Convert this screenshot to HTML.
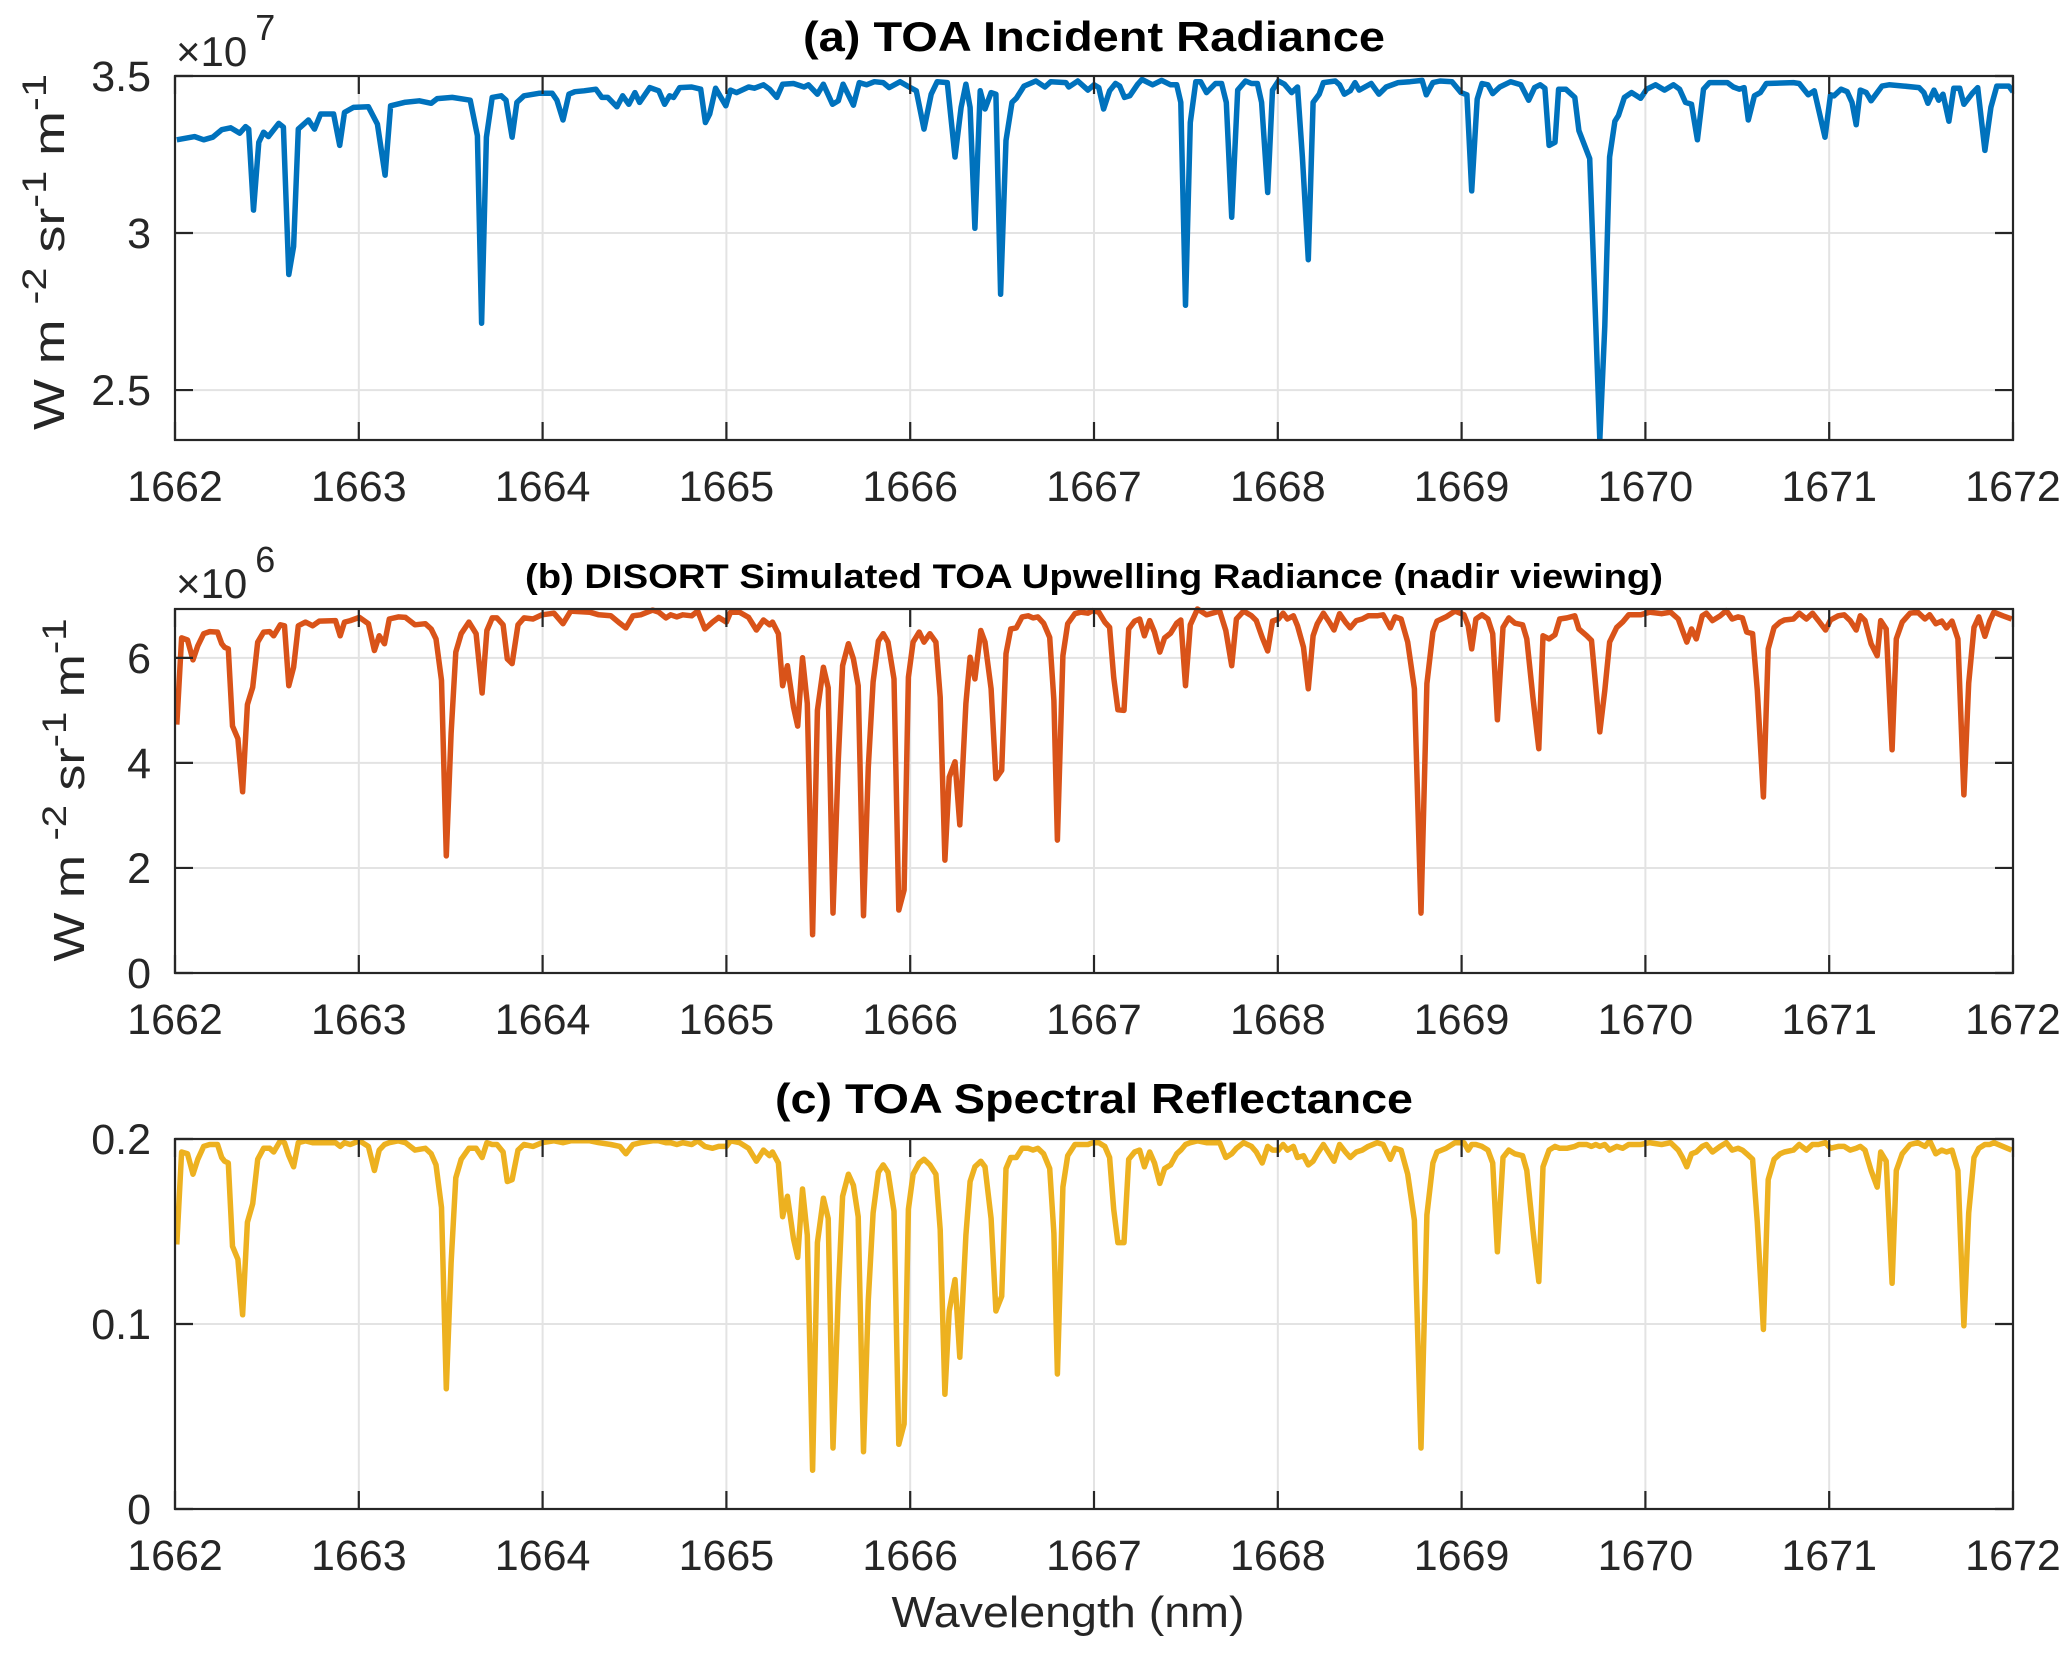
<!DOCTYPE html>
<html><head><meta charset="utf-8">
<style>
html,body{margin:0;padding:0;background:#fff;}
svg{display:block;font-family:"Liberation Sans",Arial,sans-serif;}
</style></head>
<body>
<svg id="fig" width="2067" height="1659" viewBox="0 0 2067 1659" xmlns="http://www.w3.org/2000/svg">
<rect x="0" y="0" width="2067" height="1659" fill="#fff"/>
<g id="layer"></g>
</svg>
<script>
// ---------- data ----------
const xTicks = [1662,1663,1664,1665,1666,1667,1668,1669,1670,1671,1672];
const xTickLabels = ["1662","1663","1664","1665","1666","1667","1668","1669","1670","1671","1672"];
const aTicks = [2.5,3,3.5];
const aTickLabels = ["2.5","3","3.5"];
const bTicks = [0,2,4,6];
const bTickLabels = ["0","2","4","6"];
const cTicks = [0,0.1,0.2];
const cTickLabels = ["0","0.1","0.2"];

// Panel (a): wavelength offset from 1662 nm, radiance (x10^7)
const aWave = [0.010,0.107,0.156,0.205,0.254,0.303,0.352,0.384,0.401,0.427,0.456,0.482,0.508,0.564,0.590,0.619,0.645,0.671,0.726,0.759,0.792,0.863,0.896,0.922,0.971,1.052,1.101,1.143,1.173,1.248,1.329,1.394,1.427,1.508,1.606,1.645,1.668,1.694,1.726,1.775,1.801,1.834,1.860,1.899,1.980,2.052,2.078,2.111,2.143,2.176,2.225,2.290,2.322,2.355,2.404,2.436,2.469,2.502,2.528,2.583,2.632,2.664,2.691,2.713,2.746,2.811,2.860,2.886,2.909,2.941,2.997,3.023,3.055,3.121,3.153,3.202,3.235,3.274,3.306,3.365,3.423,3.446,3.495,3.528,3.577,3.609,3.635,3.691,3.723,3.762,3.805,3.853,3.886,3.945,4.000,4.033,4.075,4.114,4.147,4.202,4.244,4.277,4.303,4.326,4.352,4.381,4.407,4.440,4.466,4.492,4.521,4.554,4.577,4.619,4.684,4.733,4.765,4.847,4.863,4.912,4.967,5.000,5.026,5.052,5.085,5.117,5.140,5.166,5.195,5.238,5.261,5.319,5.368,5.417,5.450,5.472,5.498,5.524,5.554,5.580,5.612,5.661,5.694,5.720,5.749,5.782,5.824,5.857,5.889,5.912,5.945,5.971,6.003,6.036,6.075,6.107,6.134,6.166,6.192,6.225,6.248,6.313,6.336,6.362,6.394,6.420,6.443,6.508,6.550,6.590,6.655,6.720,6.785,6.808,6.844,6.883,6.948,6.997,7.029,7.055,7.085,7.111,7.143,7.169,7.208,7.267,7.322,7.365,7.397,7.427,7.453,7.476,7.508,7.528,7.567,7.616,7.638,7.697,7.730,7.752,7.779,7.805,7.834,7.853,7.886,7.925,7.974,8.007,8.055,8.104,8.153,8.186,8.218,8.251,8.283,8.316,8.349,8.446,8.479,8.511,8.537,8.560,8.593,8.625,8.658,8.805,8.837,8.886,8.919,8.977,9.007,9.026,9.065,9.098,9.124,9.147,9.169,9.202,9.228,9.287,9.326,9.407,9.489,9.515,9.537,9.570,9.596,9.619,9.651,9.678,9.710,9.733,9.782,9.808,9.847,9.880,9.912,9.977,10.000];
const aRad = [3.297,3.307,3.297,3.305,3.329,3.335,3.318,3.339,3.331,3.073,3.289,3.321,3.307,3.349,3.337,2.868,2.957,3.331,3.360,3.331,3.379,3.379,3.279,3.384,3.400,3.402,3.347,3.184,3.405,3.416,3.421,3.413,3.428,3.432,3.423,3.310,2.713,3.305,3.432,3.437,3.423,3.305,3.416,3.437,3.445,3.445,3.423,3.360,3.442,3.450,3.453,3.458,3.432,3.432,3.402,3.437,3.410,3.447,3.416,3.463,3.453,3.410,3.437,3.432,3.463,3.465,3.458,3.352,3.379,3.461,3.405,3.455,3.447,3.465,3.461,3.472,3.458,3.432,3.474,3.476,3.465,3.472,3.442,3.474,3.410,3.421,3.474,3.407,3.479,3.472,3.482,3.479,3.463,3.482,3.463,3.453,3.331,3.442,3.482,3.479,3.242,3.400,3.474,3.400,3.015,3.453,3.395,3.447,3.442,2.805,3.295,3.416,3.429,3.468,3.484,3.465,3.482,3.479,3.465,3.484,3.455,3.472,3.463,3.395,3.453,3.476,3.468,3.432,3.437,3.474,3.489,3.472,3.486,3.472,3.472,3.416,2.770,3.352,3.482,3.482,3.447,3.476,3.476,3.416,3.050,3.455,3.484,3.476,3.476,3.416,3.129,3.455,3.484,3.474,3.447,3.465,3.242,2.915,3.416,3.442,3.479,3.484,3.472,3.442,3.453,3.479,3.455,3.476,3.442,3.465,3.479,3.482,3.486,3.440,3.479,3.484,3.482,3.447,3.440,3.134,3.426,3.476,3.472,3.444,3.465,3.482,3.472,3.423,3.463,3.472,3.461,3.279,3.289,3.458,3.458,3.432,3.326,3.237,2.704,2.341,2.704,3.242,3.356,3.374,3.432,3.447,3.429,3.458,3.472,3.455,3.472,3.458,3.416,3.410,3.297,3.458,3.479,3.479,3.465,3.458,3.463,3.360,3.437,3.447,3.476,3.479,3.476,3.440,3.453,3.305,3.440,3.437,3.458,3.450,3.416,3.345,3.455,3.447,3.421,3.468,3.472,3.468,3.463,3.447,3.413,3.455,3.423,3.442,3.356,3.461,3.461,3.410,3.447,3.463,3.263,3.400,3.468,3.468,3.450];

// Panel (b) and (c): shared wavelength offsets from 1662 nm
const bWave = [0.010,0.036,0.068,0.098,0.124,0.156,0.189,0.231,0.254,0.270,0.290,0.313,0.342,0.368,0.394,0.423,0.450,0.482,0.515,0.537,0.573,0.596,0.619,0.645,0.671,0.710,0.749,0.785,0.873,0.899,0.922,0.954,1.003,1.052,1.085,1.111,1.140,1.166,1.215,1.254,1.306,1.362,1.394,1.420,1.450,1.476,1.502,1.528,1.557,1.599,1.638,1.671,1.697,1.726,1.752,1.785,1.808,1.834,1.866,1.899,1.948,1.997,2.062,2.111,2.153,2.257,2.306,2.371,2.420,2.453,2.492,2.534,2.599,2.632,2.671,2.697,2.730,2.762,2.811,2.844,2.883,2.925,2.958,3.000,3.023,3.072,3.121,3.163,3.202,3.235,3.251,3.283,3.306,3.332,3.365,3.388,3.414,3.440,3.469,3.495,3.528,3.554,3.580,3.609,3.632,3.664,3.691,3.717,3.746,3.772,3.798,3.827,3.853,3.879,3.912,3.938,3.967,3.990,4.016,4.049,4.075,4.107,4.140,4.163,4.189,4.212,4.244,4.270,4.303,4.326,4.352,4.384,4.407,4.440,4.466,4.498,4.521,4.547,4.577,4.609,4.642,4.668,4.694,4.726,4.759,4.782,4.801,4.831,4.857,4.896,4.928,4.967,4.993,5.026,5.059,5.085,5.107,5.130,5.163,5.189,5.221,5.248,5.274,5.303,5.329,5.358,5.384,5.417,5.450,5.472,5.498,5.524,5.563,5.612,5.684,5.717,5.749,5.775,5.814,5.857,5.883,5.915,5.945,5.971,6.003,6.029,6.052,6.085,6.107,6.140,6.166,6.192,6.215,6.248,6.280,6.306,6.336,6.368,6.394,6.427,6.459,6.492,6.541,6.573,6.612,6.638,6.671,6.707,6.743,6.779,6.811,6.844,6.866,6.915,6.964,7.013,7.036,7.055,7.078,7.111,7.143,7.169,7.195,7.225,7.257,7.290,7.332,7.355,7.388,7.420,7.443,7.476,7.508,7.534,7.573,7.616,7.638,7.681,7.707,7.730,7.752,7.779,7.805,7.844,7.876,7.909,7.974,8.023,8.088,8.137,8.179,8.202,8.225,8.251,8.277,8.309,8.332,8.365,8.407,8.440,8.472,8.505,8.528,8.551,8.583,8.609,8.642,8.668,8.700,8.733,8.756,8.805,8.837,8.876,8.909,8.941,8.980,9.007,9.049,9.081,9.114,9.147,9.169,9.195,9.228,9.261,9.280,9.310,9.342,9.365,9.397,9.440,9.482,9.521,9.547,9.580,9.612,9.638,9.668,9.700,9.733,9.759,9.788,9.814,9.847,9.873,9.896,9.945,9.993];
const bRad = [4.73,6.38,6.34,5.96,6.23,6.46,6.50,6.49,6.27,6.20,6.17,4.70,4.46,3.45,5.11,5.44,6.30,6.49,6.50,6.42,6.63,6.61,5.47,5.82,6.61,6.68,6.61,6.70,6.71,6.42,6.68,6.71,6.77,6.65,6.14,6.42,6.27,6.74,6.78,6.77,6.63,6.65,6.55,6.36,5.57,2.23,4.56,6.11,6.46,6.68,6.46,5.33,6.52,6.76,6.76,6.63,5.98,5.89,6.63,6.76,6.74,6.82,6.85,6.65,6.89,6.87,6.82,6.80,6.66,6.57,6.80,6.82,6.91,6.87,6.76,6.82,6.78,6.82,6.80,6.89,6.55,6.68,6.77,6.68,6.87,6.87,6.77,6.53,6.72,6.63,6.68,6.46,5.47,5.85,5.06,4.70,6.00,5.13,0.73,5.00,5.82,5.43,1.14,4.05,5.85,6.27,5.98,5.47,1.09,3.92,5.54,6.32,6.46,6.30,5.60,1.20,1.58,5.63,6.30,6.49,6.30,6.46,6.30,5.25,2.15,3.73,4.02,2.82,5.13,6.01,5.60,6.52,6.30,5.41,3.70,3.86,6.08,6.55,6.57,6.78,6.80,6.76,6.78,6.66,6.39,5.19,2.53,6.04,6.65,6.84,6.87,6.85,6.90,6.87,6.68,6.58,5.63,5.01,5.00,6.55,6.70,6.74,6.42,6.71,6.49,6.11,6.38,6.47,6.66,6.72,5.47,6.63,6.93,6.82,6.89,6.52,5.85,6.74,6.89,6.80,6.71,6.39,6.13,6.70,6.74,6.85,6.74,6.80,6.61,6.20,5.41,6.42,6.65,6.85,6.68,6.53,6.84,6.68,6.57,6.71,6.74,6.80,6.80,6.82,6.57,6.78,6.74,6.30,5.41,1.14,5.51,6.49,6.70,6.78,6.89,6.82,6.61,6.17,6.74,6.82,6.74,6.46,4.82,6.58,6.76,6.66,6.63,6.36,5.25,4.27,6.42,6.36,6.44,6.74,6.76,6.80,6.55,6.42,6.33,5.44,4.59,5.38,6.30,6.58,6.68,6.82,6.82,6.87,6.84,6.87,6.74,6.52,6.30,6.55,6.36,6.80,6.85,6.71,6.80,6.90,6.74,6.78,6.76,6.49,6.46,5.38,3.35,6.17,6.58,6.68,6.72,6.74,6.85,6.74,6.85,6.71,6.53,6.72,6.80,6.82,6.71,6.53,6.80,6.71,6.27,6.04,6.71,6.55,4.25,6.36,6.68,6.85,6.87,6.74,6.82,6.65,6.70,6.57,6.70,6.36,3.39,5.52,6.58,6.78,6.41,6.70,6.87,6.80,6.74];
const cRefl = [0.143,0.193,0.192,0.181,0.189,0.196,0.197,0.197,0.190,0.188,0.187,0.142,0.135,0.105,0.155,0.165,0.189,0.195,0.195,0.193,0.199,0.198,0.191,0.185,0.198,0.199,0.198,0.198,0.198,0.196,0.198,0.197,0.199,0.196,0.183,0.194,0.197,0.198,0.199,0.198,0.194,0.195,0.192,0.186,0.163,0.065,0.133,0.179,0.189,0.195,0.195,0.190,0.198,0.197,0.197,0.193,0.177,0.178,0.194,0.197,0.196,0.198,0.199,0.198,0.199,0.199,0.198,0.197,0.196,0.192,0.197,0.198,0.199,0.199,0.198,0.198,0.197,0.198,0.197,0.199,0.196,0.195,0.196,0.196,0.199,0.198,0.195,0.188,0.194,0.191,0.193,0.187,0.158,0.169,0.146,0.136,0.173,0.148,0.021,0.144,0.168,0.157,0.033,0.117,0.169,0.181,0.175,0.158,0.031,0.113,0.160,0.182,0.186,0.182,0.161,0.035,0.046,0.162,0.181,0.187,0.189,0.186,0.181,0.151,0.062,0.107,0.124,0.082,0.148,0.177,0.185,0.188,0.185,0.157,0.107,0.115,0.184,0.190,0.190,0.195,0.195,0.194,0.195,0.192,0.184,0.149,0.073,0.174,0.191,0.197,0.197,0.197,0.198,0.198,0.196,0.190,0.162,0.144,0.144,0.189,0.193,0.194,0.185,0.193,0.187,0.176,0.184,0.186,0.192,0.194,0.197,0.198,0.199,0.198,0.198,0.190,0.192,0.195,0.198,0.196,0.193,0.187,0.196,0.194,0.194,0.197,0.194,0.196,0.190,0.191,0.186,0.188,0.192,0.197,0.192,0.188,0.197,0.193,0.190,0.193,0.194,0.196,0.198,0.197,0.189,0.195,0.194,0.181,0.156,0.033,0.159,0.187,0.193,0.195,0.198,0.198,0.194,0.197,0.197,0.196,0.194,0.187,0.139,0.190,0.194,0.192,0.191,0.183,0.151,0.123,0.185,0.194,0.196,0.195,0.195,0.196,0.197,0.197,0.196,0.197,0.196,0.197,0.194,0.196,0.195,0.197,0.197,0.198,0.197,0.198,0.194,0.190,0.185,0.192,0.193,0.196,0.197,0.193,0.196,0.198,0.194,0.195,0.194,0.192,0.189,0.155,0.097,0.178,0.189,0.192,0.193,0.194,0.197,0.194,0.197,0.197,0.198,0.195,0.196,0.196,0.194,0.195,0.196,0.194,0.183,0.174,0.193,0.188,0.122,0.183,0.192,0.197,0.198,0.196,0.199,0.192,0.194,0.193,0.194,0.183,0.099,0.160,0.190,0.195,0.197,0.197,0.198,0.196,0.194];

// ---------- drawing ----------
const NS = "http://www.w3.org/2000/svg";
const layer = document.getElementById('layer');
const X0 = 175, X1 = 2013, XMIN = 1662, XMAX = 1672;
function xs(v){ return X0 + (v - XMIN) / (XMAX - XMIN) * (X1 - X0); }
function mk(tag, attrs, parent){
  const e = document.createElementNS(NS, tag);
  for (const k in attrs) e.setAttribute(k, attrs[k]);
  (parent || layer).appendChild(e);
  return e;
}
const TXT = "#262626";

function panel(cfg){
  const g = mk('g', {});
  
  
  const ys = v => cfg.bottom - (v - cfg.ymin) / (cfg.ymax - cfg.ymin) * (cfg.bottom - cfg.top);
  xTicks.forEach((t, i) => {
    if (i === 0 || i === xTicks.length - 1) return;
    const l = mk('line', {x1: xs(t), x2: xs(t), y1: cfg.top, y2: cfg.bottom, stroke: '#e3e3e3', 'stroke-width': 2}, g);
    
    
  });
  cfg.yt.forEach(t => {
    if (Math.abs(ys(t) - cfg.top) < 2 || Math.abs(ys(t) - cfg.bottom) < 2) return;
    const l = mk('line', {x1: X0, x2: X1, y1: ys(t), y2: ys(t), stroke: '#e3e3e3', 'stroke-width': 2}, g);
    
    
  });
  let d = '';
  cfg.wave.forEach((w, i) => {
    const px = xs(XMIN + w), py = ys(Math.max(cfg.ymin, cfg.vals[i]));
    d += (i ? 'L' : 'M') + px.toFixed(1) + ' ' + py.toFixed(1);
  });
  const clipId = cfg.name + '-clip';
  const cp = mk('clipPath', {id: clipId}, g);
  mk('rect', {x: X0, y: cfg.top - 4, width: X1 - X0, height: cfg.bottom - cfg.top + 4}, cp);
  const p = mk('path', {d: d, fill: 'none', stroke: cfg.color, 'stroke-width': 5.5, 'stroke-linejoin': 'round', 'clip-path': 'url(#' + clipId + ')'}, g);
  
  
  const box = mk('rect', {x: X0, y: cfg.top, width: X1 - X0, height: cfg.bottom - cfg.top, fill: 'none', stroke: '#262626', 'stroke-width': 2.2}, g);
  
  
  xTicks.forEach((t, i) => {
    mk('line', {x1: xs(t), x2: xs(t), y1: cfg.bottom, y2: cfg.bottom - 18, stroke: '#262626', 'stroke-width': 2.2}, g);
    mk('line', {x1: xs(t), x2: xs(t), y1: cfg.top, y2: cfg.top + 18, stroke: '#262626', 'stroke-width': 2.2}, g);
    const tx = mk('text', {x: xs(t), y: cfg.bottom + 61, 'text-anchor': 'middle', 'font-size': 43, fill: TXT}, g);
    tx.textContent = xTickLabels[i];
    
    
  });
  cfg.yt.forEach((t, i) => {
    mk('line', {x1: X0, x2: X0 + 18, y1: ys(t), y2: ys(t), stroke: '#262626', 'stroke-width': 2.2}, g);
    mk('line', {x1: X1, x2: X1 - 18, y1: ys(t), y2: ys(t), stroke: '#262626', 'stroke-width': 2.2}, g);
    const tx = mk('text', {x: X0 - 24, y: ys(t) + 15, 'text-anchor': 'end', 'font-size': 43, fill: TXT}, g);
    tx.textContent = cfg.ytl[i];
    
    
  });
  const ti = mk('text', {x: (X0 + X1) / 2, y: cfg.titleY, 'text-anchor': 'middle', 'font-size': cfg.titleSize, 'font-weight': 'bold', fill: '#000', textLength: cfg.titleLen, lengthAdjust: 'spacingAndGlyphs'}, g);
  ti.textContent = cfg.title;
  
  
  return g;
}

panel({name: 'panel-a', seriesName: 'toa-incident-radiance-line', top: 76, bottom: 440, ymin: 2.341, ymax: 3.5, yt: aTicks, ytl: aTickLabels, wave: aWave, vals: aRad, color: '#0072BD', title: '(a) TOA Incident Radiance', titleY: 51, titleSize: 42, titleLen: 582});
panel({name: 'panel-b', seriesName: 'disort-upwelling-radiance-line', top: 609, bottom: 973, ymin: 0, ymax: 6.93, yt: bTicks, ytl: bTickLabels, wave: bWave, vals: bRad, color: '#D95319', title: '(b) DISORT Simulated TOA Upwelling Radiance (nadir viewing)', titleY: 588, titleSize: 34, titleLen: 1138});
panel({name: 'panel-c', seriesName: 'toa-spectral-reflectance-line', top: 1139, bottom: 1509, ymin: 0, ymax: 0.2, yt: cTicks, ytl: cTickLabels, wave: bWave, vals: cRefl, color: '#EDB120', title: '(c) TOA Spectral Reflectance', titleY: 1113, titleSize: 42, titleLen: 638});

function expo(x, y, p, nm){
  const t = mk('text', {x: x, y: y, 'font-size': 42, fill: TXT});
  
  
  const s1 = mk('tspan', {}, t); s1.textContent = '\u00d710';
  const s2 = mk('tspan', {dx: 8, dy: -26, 'font-size': 36}, t); s2.textContent = p;
}
expo(176, 66, '7', 'y-exponent-a');
expo(176, 598, '6', 'y-exponent-b');

function ylab(cx, cy, len, nm){
  const t = mk('text', {transform: 'translate(' + cx + ',' + cy + ') rotate(-90)', 'text-anchor': 'middle', 'font-size': 44, fill: TXT, textLength: len, lengthAdjust: 'spacingAndGlyphs'});
  
  
  const parts = [['W m ', 0], ['-2', -18], [' sr', 18], ['-1', -18], [' m', 18], ['-1', -18]];
  parts.forEach(pp => {
    const s = mk('tspan', {dy: pp[1]}, t);
    if (pp[0].indexOf('-') === 0) s.setAttribute('font-size', 34);
    s.textContent = pp[0];
  });
}
ylab(64, 252, 356, 'y-axis-title-a');
ylab(84, 790, 343, 'y-axis-title-b');

const xl = mk('text', {x: 1068, y: 1627, 'text-anchor': 'middle', 'font-size': 44, fill: TXT, textLength: 353, lengthAdjust: 'spacingAndGlyphs'});
xl.textContent = 'Wavelength (nm)';


</script>
</body></html>
